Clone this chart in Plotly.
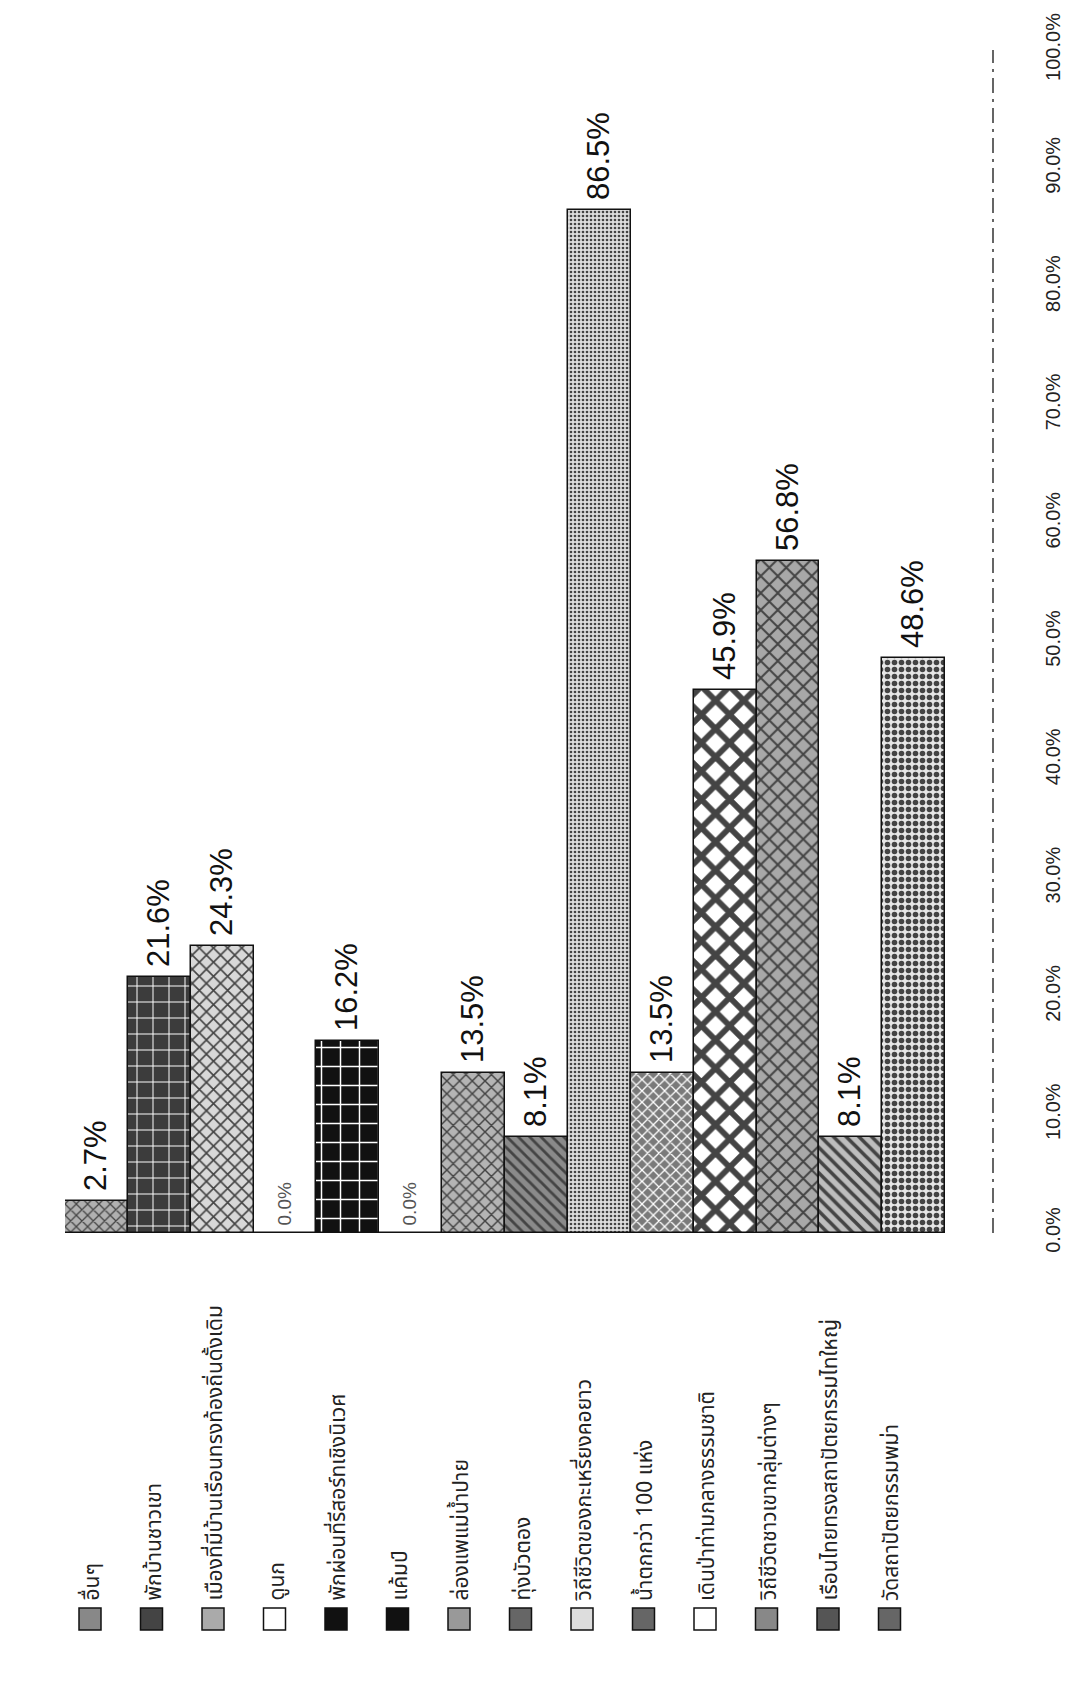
import plotly.graph_objects as go

W, H = 1078, 1681

# data
activities = [
    "อื่นๆ",
    "พักบ้านชาวเขา",
    "เมืองที่มีบ้านเรือนทรงท้องถิ่นดั้งเดิม",
    "ดูนก",
    "พักผ่อนที่รีสอร์ทเชิงนิเวศ",
    "แค้มป์",
    "ล่องแพแม่น้ำปาย",
    "ทุ่งบัวตอง",
    "วิถีชีวิตของกะเหรี่ยงคอยาว",
    "น้ำตกกว่า 100 แห่ง",
    "เดินป่าท่ามกลางธรรมชาติ",
    "วิถีชีวิตชาวเขากลุ่มต่างๆ",
    "เรือนไทยทรงสถาปัตยกรรมไทใหญ่",
    "วัดสถาปัตยกรรมพม่า",
]
percent = [2.7, 21.6, 24.3, 0.0, 16.2, 0.0, 13.5, 8.1, 86.5, 13.5, 45.9, 56.8, 8.1, 48.6]
tick_vals = [0, 0.1, 0.2, 0.3, 0.4, 0.5, 0.6, 0.7, 0.8, 0.9, 1.0]

# fill patterns (imitating the black & white hatches of the print)
pat_shape = ["x", "+", "x", "", "+", "", "x", "\\", ".", "x", "x", "x", "\\", "."]
pat_fg = ["#222", "#f4f4f4", "#333", "#000", "#f4f4f4", "#000", "#444", "#2a2a2a",
          "#8a8a8a", "#222", "#111", "#555", "#222", "#111"]
pat_bg = ["#b0b0b0", "#3c3c3c", "#d8d8d8", "#fff", "#111", "#111", "#b4b4b4", "#8a8a8a",
          "#dedede", "#7a7a7a", "#fff", "#a8a8a8", "#bdbdbd", "#e6e6e6"]
pat_size = [8, 16, 10, 8, 19, 8, 9, 8, 4, 8, 20, 12, 9, 7]
pat_solid = [0.3, 0.12, 0.3, 0.3, 0.15, 0.3, 0.3, 0.35, 0.35, 0.3, 0.5, 0.3, 0.4, 0.5]
swatch_fill = ["#888", "#444", "#aaa", "#fff", "#111", "#111", "#999", "#666",
               "#ddd", "#666", "#fff", "#888", "#555", "#666"]

THAI = "Noto Sans Thai, Noto Sans Thai UI, Loma, Garuda, Noto Sans, sans-serif"
ARIAL = "Liberation Sans, Arial, sans-serif"

labels = [f"\u2009{v:.1f}%" for v in percent]
lab_size = [19 if v == 0 else 31 for v in percent]
lab_color = ["#555" if v == 0 else "#111" for v in percent]

fig = go.Figure()
fig.add_trace(go.Bar(
    x=list(range(len(activities))), y=[v / 100 for v in percent],
    text=labels, textposition="outside", textangle=-90, constraintext="none",
    textfont=dict(family=ARIAL, size=lab_size, color=lab_color),
    cliponaxis=False, width=1.0,
    marker=dict(
        color=pat_bg,
        line=dict(color="#111", width=1.5),
        pattern=dict(shape=pat_shape, fgcolor=pat_fg, fgopacity=1,
                     size=pat_size, solidity=pat_solid, fillmode="overlay"),
    ),
    hovertext=activities, showlegend=False,
))

# plot area in pixels: x 57..985, y 42..1225
fig.update_layout(
    width=W, height=H,
    margin=dict(l=0, r=0, t=0, b=0),
    paper_bgcolor="white", plot_bgcolor="white",
    bargap=0,
    xaxis=dict(domain=[57 / W, 985 / W], range=[-0.5, 14.26],
               showticklabels=False, showgrid=False, zeroline=False,
               showline=False, ticks=""),
    yaxis=dict(domain=[(H - 1225) / H, (H - 42) / H], range=[0, 1],
               side="right", tickvals=tick_vals, tickformat=".1%",
               tickangle=-90, ticklabelstandoff=46,
               tickfont=dict(family=ARIAL, size=20, color="#222"),
               showgrid=False, zeroline=False, showline=False, ticks="",
               automargin=False),
)

# broken value-axis line
fig.add_shape(type="line", xref="x domain", yref="y", x0=1, x1=1, y0=0, y1=1,
              line=dict(color="#333", width=1.5, dash="longdashdot"))

# legend (rotated text, drawn manually)
for i, name in enumerate(activities):
    cx = 82 + 61.5 * i
    cy = 1611
    fig.add_shape(type="rect", xref="paper", yref="paper",
                  x0=(cx - 11) / W, x1=(cx + 11) / W,
                  y0=1 - (cy + 11) / H, y1=1 - (cy - 11) / H,
                  fillcolor=swatch_fill[i], line=dict(color="#111", width=1.5))
    fig.add_annotation(x=(cx + 2) / W, y=1 - 1595 / H, xref="paper", yref="paper",
                       text=name, showarrow=False, textangle=-90,
                       xanchor="center", yanchor="bottom",
                       font=dict(family=THAI, size=21, color="#222"))

fig.write_html("out.html")
